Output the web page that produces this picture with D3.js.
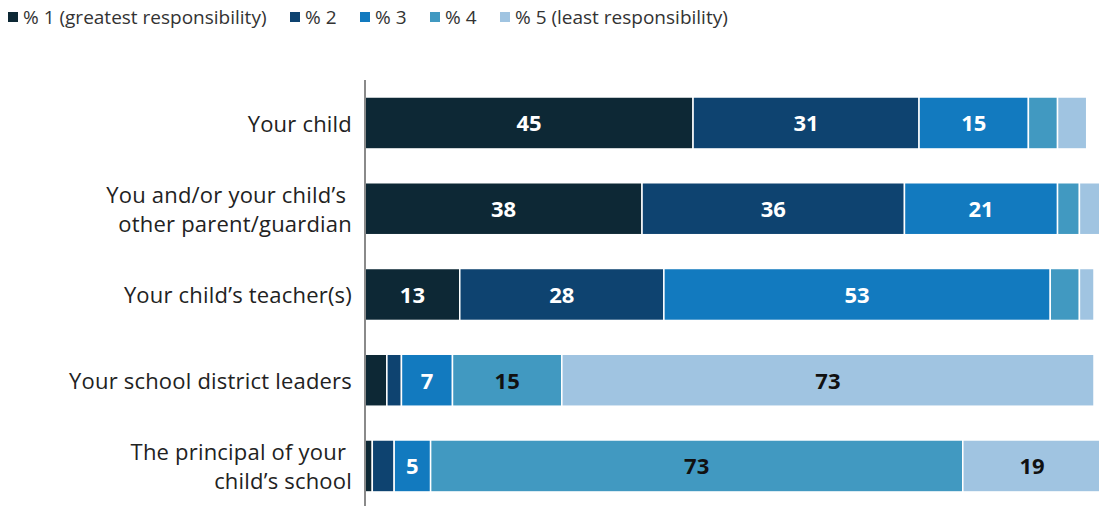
<!DOCTYPE html>
<html><head><meta charset="utf-8">
<script src="https://cdn.jsdelivr.net/npm/d3@7"></script>
<style>
html,body{margin:0;padding:0;background:#fff;overflow:hidden;}
svg{display:block;font-family:"Open Sans", Lato, sans-serif;}
</style></head>
<body>
<svg id="chart" width="1099" height="506"></svg>
<script>
const categories = ["Your child", "You and/or your child\u2019s other parent/guardian", "Your child\u2019s teacher(s)", "Your school district leaders", "The principal of your child\u2019s school"];
const categoryLines = [["Your child"], ["You and/or your child\u2019s ", "other parent/guardian"], ["Your child\u2019s teacher(s)"], ["Your school district leaders"], ["The principal of your ", "child\u2019s school"]];
const seriesNames = ["% 1 (greatest responsibility)", "% 2", "% 3", "% 4", "% 5 (least responsibility)"];
const s1 = [45, 38, 13, 3, 1];
const s2 = [31, 36, 28, 2, 3];
const s3 = [15, 21, 53, 7, 5];
const s4 = [4, 3, 4, 15, 73];
const s5 = [4, 3, 2, 73, 19];
const colors = ["#0d2835", "#0e4370", "#127abf", "#4199c1", "#a0c4e1"];
const labelColors = ["#fff", "#fff", "#fff", "#111", "#111"];

const series = [s1, s2, s3, s4, s5];
const svg = d3.select("#chart");

const x = d3.scaleLinear().domain([0, 100]).range([365, 1094]);
const y = d3.scaleBand().domain(categories).range([79.85, 509.1]).paddingInner(0.394).paddingOuter(0.2);

const rows = categories.map((c, i) => {
  const o = {cat: c}; seriesNames.forEach((s, j) => o[s] = series[j][i]); return o;
});
const stacked = d3.stack().keys(seriesNames)(rows);

const g = svg.append("g");
stacked.forEach((layer, j) => {
  g.selectAll(null).data(layer).join("rect")
    .attr("x", d => x(d[0]))
    .attr("y", d => y(d.data.cat))
    .attr("width", d => Math.max(0, x(d[1]) - x(d[0])))
    .attr("height", y.bandwidth())
    .attr("fill", colors[j])
    .attr("stroke", "#fff").attr("stroke-width", 1.5);
  g.selectAll(null).data(layer.filter(d => d[1] - d[0] >= 5)).join("text")
    .attr("x", d => (x(d[0]) + x(d[1])) / 2)
    .attr("y", d => y(d.data.cat) + y.bandwidth() / 2)
    .attr("dy", "0.38em")
    .attr("text-anchor", "middle")
    .attr("font-size", 22).attr("font-weight", 700)
    .attr("fill", labelColors[j])
    .text(d => d[1] - d[0]);
});

// axis line
svg.append("line").attr("x1", x(0)).attr("x2", x(0)).attr("y1", 80).attr("y2", 506)
  .attr("stroke", "#8a8a8a").attr("stroke-width", 2);

// category labels
categories.forEach((c, i) => {
  const lines = categoryLines[i];
  const cy = y(c) + y.bandwidth() / 2;
  const lh = 29;
  const t = svg.append("text").attr("text-anchor", "end").attr("font-size", 22).attr("fill", "#222")
    .attr("letter-spacing", 0.2).style("white-space", "pre");
  lines.forEach((ln, k) => {
    t.append("tspan").attr("x", 352).attr("y", cy + (k - (lines.length - 1) / 2) * lh).attr("dy", "0.4em").text(ln);
  });
});

// legend
const legendX = [8, 290, 360, 430, 500];
seriesNames.forEach((s, j) => {
  const lg = svg.append("g").attr("transform", `translate(${legendX[j]},0)`);
  lg.append("rect").attr("x", 0).attr("y", 12).attr("width", 10).attr("height", 10).attr("fill", colors[j]);
  lg.append("text").attr("x", 15).attr("y", 17).attr("dy", "0.36em").attr("font-size", 19).attr("fill", "#333").text(s);
});
</script>
</body></html>
